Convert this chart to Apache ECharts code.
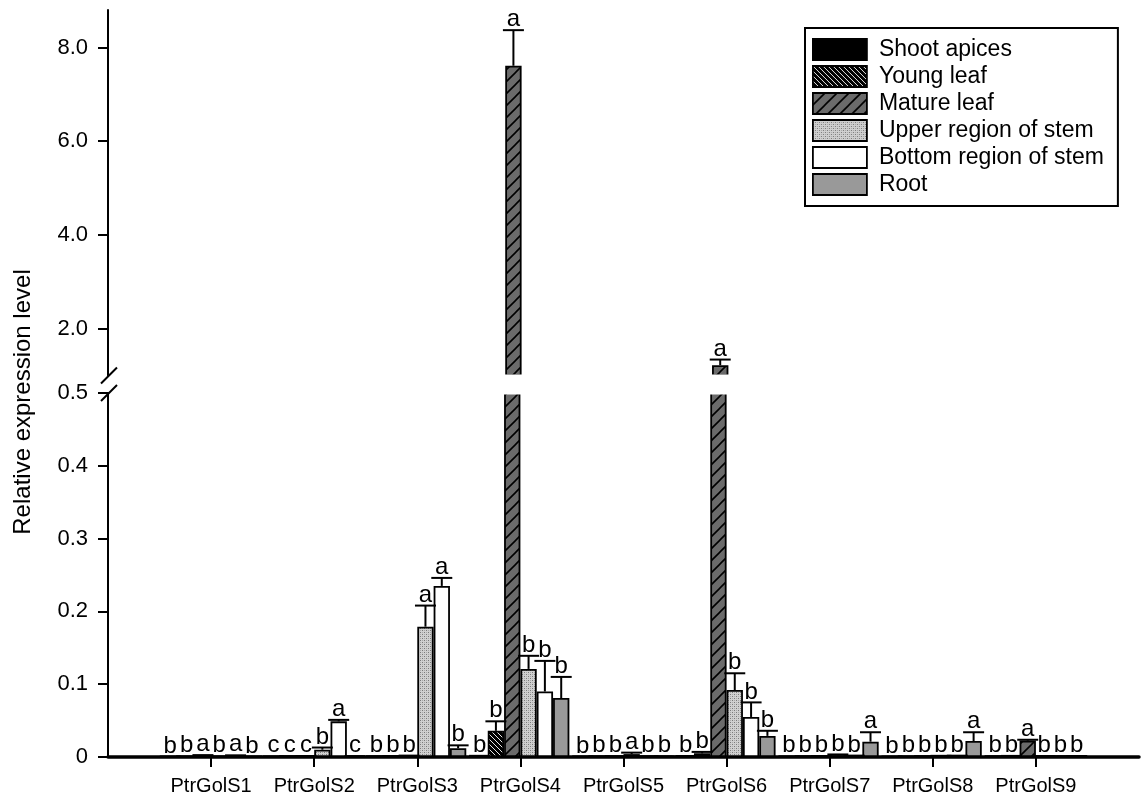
<!DOCTYPE html>
<html>
<head>
<meta charset="utf-8">
<title>PtrGolS relative expression</title>
<script src="https://cdn.jsdelivr.net/npm/echarts@6/dist/echarts.min.js"></script>
<style>
  html, body { margin: 0; padding: 0; background: #fff; }
  #chart { width: 1142px; height: 800px; }
</style>
</head>
<body>
<div id="chart"></div>
<script>
// ---- data ----
const categories = ['PtrGolS1', 'PtrGolS2', 'PtrGolS3', 'PtrGolS4', 'PtrGolS5',
                    'PtrGolS6', 'PtrGolS7', 'PtrGolS8', 'PtrGolS9'];
const tissues = ['Shoot apices', 'Young leaf', 'Mature leaf',
                 'Upper region of stem', 'Bottom region of stem', 'Root'];

// mean relative expression, one array per tissue (order follows categories)
const shootApices = [0.0004, 0.0006, 0.0008, 0.0012, 0.0005, 0.0010, 0.0006, 0.0004, 0.0008];
const youngLeaf   = [0.0006, 0.0009, 0.0010, 0.036,  0.0007, 0.0050, 0.0008, 0.0006, 0.0012];
const matureLeaf  = [0.0020, 0.0011, 0.0015, 7.61,   0.0009, 1.22,   0.0010, 0.0009, 0.0225];
const upperStem   = [0.0006, 0.010,  0.179,  0.121,  0.0040, 0.092,  0.0025, 0.0012, 0.0010];
const bottomStem  = [0.0018, 0.049,  0.235,  0.090,  0.0008, 0.055,  0.0015, 0.0014, 0.0009];
const root        = [0.0005, 0.0009, 0.012,  0.081,  0.0007, 0.029,  0.021,  0.022,  0.0011];

// standard errors (upper bars only)
const shootApicesErr = [0.0003, 0.0003, 0.0003, 0.0004, 0.0003, 0.0004, 0.0003, 0.0003, 0.0003];
const youngLeafErr   = [0.0003, 0.0003, 0.0003, 0.013,  0.0003, 0.002,  0.0003, 0.0003, 0.0003];
const matureLeafErr  = [0.0006, 0.0003, 0.0004, 0.76,   0.0003, 0.12,   0.0003, 0.0003, 0.0012];
const upperStemErr   = [0.0003, 0.003,  0.029,  0.018,  0.002,  0.023,  0.001,  0.0004, 0.0003];
const bottomStemErr  = [0.0005, 0.002,  0.011,  0.042,  0.0003, 0.020,  0.0004, 0.0004, 0.0003];
const rootErr        = [0.0003, 0.0003, 0.004,  0.029,  0.0003, 0.007,  0.013,  0.012,  0.0003];

// significance letters
const shootApicesSig = ['b', 'c', 'b', 'b', 'b', 'b', 'b', 'b', 'b'];
const youngLeafSig   = ['b', 'c', 'b', 'b', 'b', 'b', 'b', 'b', 'b'];
const matureLeafSig  = ['a', 'c', 'b', 'a', 'b', 'a', 'b', 'b', 'a'];
const upperStemSig   = ['b', 'b', 'a', 'b', 'a', 'b', 'b', 'b', 'b'];
const bottomStemSig  = ['a', 'a', 'a', 'b', 'b', 'b', 'b', 'b', 'b'];
const rootSig        = ['b', 'c', 'b', 'b', 'b', 'b', 'a', 'a', 'b'];

// broken value axis: lower segment 0-0.5, upper segment 1.0-8.8
const lowerTicks = [0, 0.1, 0.2, 0.3, 0.4, 0.5];
const upperTicks = [2, 4, 6, 8];
const LOWER_MAX = 0.5;
const UPPER_MIN = 1.0;
const UPPER_MAX = 8.8;

const means = [shootApices, youngLeaf, matureLeaf, upperStem, bottomStem, root];
const errs  = [shootApicesErr, youngLeafErr, matureLeafErr, upperStemErr, bottomStemErr, rootErr];
const sigs  = [shootApicesSig, youngLeafSig, matureLeafSig, upperStemSig, bottomStemSig, rootSig];

// ---- fill patterns ----
function tile(size, draw) {
  const c = document.createElement('canvas');
  c.width = size; c.height = size;
  draw(c.getContext('2d'), size);
  return { image: c, repeat: 'repeat' };
}
function backSlash(g, s) {           // lines running "\"
  g.beginPath();
  g.moveTo(-s, 0); g.lineTo(s, 2 * s);
  g.moveTo(0, 0);  g.lineTo(s, s);
  g.moveTo(0, -s); g.lineTo(2 * s, s);
  g.stroke();
}
function slash(g, s) {               // lines running "/"
  g.beginPath();
  g.moveTo(-s, s); g.lineTo(s, -s);
  g.moveTo(0, s);  g.lineTo(s, 0);
  g.moveTo(0, 2 * s); g.lineTo(2 * s, 0);
  g.stroke();
}
const fills = [
  '#000000',
  tile(5, (g, s) => { g.fillStyle = '#000'; g.fillRect(0, 0, s, s);
                      g.strokeStyle = '#ffffff'; g.lineWidth = 0.9; backSlash(g, s); }),
  tile(12, (g, s) => { g.fillStyle = '#6b6b6b'; g.fillRect(0, 0, s, s);
                       g.strokeStyle = '#000'; g.lineWidth = 1.6; slash(g, s); }),
  tile(4, (g, s) => { g.fillStyle = '#d0d0d0'; g.fillRect(0, 0, s, s);
                      g.fillStyle = '#7a7a7a'; g.fillRect(0, 0, 1, 1); g.fillRect(2, 2, 1, 1);
                      g.fillStyle = '#a8a8a8'; g.fillRect(2, 0, 1, 1); g.fillRect(0, 2, 1, 1); }),
  '#ffffff',
  '#999999'
];

// ---- layout constants ----
const FONT = '"Liberation Sans", Arial, Helvetica, sans-serif';
const AXIS_X = 108;
const PLOT_W = 1039;
const LOWER_TOP = 393, LOWER_BOTTOM = 757;
const UPPER_TOP = 10, UPPER_BOTTOM = 375.5;
const CAT_GAP = 0.05;
const slots = [''].concat(categories, ['']);

// one entry per bar, used by the error-bar/letter overlay
const marks = [];
means.forEach((arr, k) => arr.forEach((v, i) => {
  marks.push({ k: k, cat: i + 1, value: v, err: errs[k][i], sig: sigs[k][i] });
}));
const lowerMarks = marks.filter(m => m.value <= LOWER_MAX);
const upperMarks = marks.filter(m => m.value > LOWER_MAX);

function overlay(list) {
  return function (params, api) {
    const m = list[params.dataIndex];
    const band = api.coord([2, 0])[0] - api.coord([1, 0])[0];
    const bw = band * (1 - CAT_GAP) / tissues.length;
    const cx = api.coord([m.cat, 0])[0] + (m.k - (tissues.length - 1) / 2) * bw;
    const yBar = api.coord([m.cat, m.value])[1];
    const yTop = api.coord([m.cat, m.value + m.err])[1];
    const stroke = { stroke: '#000', lineWidth: 2 };
    return {
      type: 'group',
      children: [
        { type: 'line', shape: { x1: cx, y1: yBar, x2: cx, y2: yTop }, style: stroke },
        { type: 'line', shape: { x1: cx - 10.5, y1: yTop, x2: cx + 10.5, y2: yTop }, style: stroke },
        { type: 'text', z2: 10,
          style: { text: m.sig, x: cx, y: yTop - 10.5, align: 'center', verticalAlign: 'middle',
                   fill: '#000', font: '24px ' + FONT } }
      ]
    };
  };
}

const barSeries = [];
tissues.forEach((name, k) => {
  const common = {
    type: 'bar', name: name, barGap: '0%', barCategoryGap: (CAT_GAP * 100) + '%',
    itemStyle: { color: fills[k], borderColor: '#000', borderWidth: 1.8 },
    emphasis: { disabled: true }, animation: false
  };
  barSeries.push(Object.assign({}, common, {
    xAxisIndex: 0, yAxisIndex: 0,
    data: means[k].map((v, i) => [i + 1, v])
  }));
  barSeries.push(Object.assign({}, common, {
    xAxisIndex: 1, yAxisIndex: 1,
    data: means[k].map((v, i) => [i + 1, v]).filter(d => d[1] > LOWER_MAX)
  }));
});

const chart = echarts.init(document.getElementById('chart'), null, { renderer: 'canvas' });

chart.setOption({
  backgroundColor: '#ffffff',
  animation: false,
  textStyle: { fontFamily: FONT, color: '#000' },
  grid: [
    { left: AXIS_X, top: LOWER_TOP, width: PLOT_W, height: LOWER_BOTTOM - LOWER_TOP },
    { left: AXIS_X, top: UPPER_TOP, width: PLOT_W, height: UPPER_BOTTOM - UPPER_TOP }
  ],
  xAxis: [
    {
      type: 'category', gridIndex: 0, data: slots, boundaryGap: false,
      axisLine: { show: true, lineStyle: { color: '#000', width: 3.5 } },
      axisTick: { show: true, length: 10, interval: (i) => i > 0 && i < slots.length - 1,
                  lineStyle: { color: '#000', width: 2 } },
      axisLabel: { interval: 0, color: '#000', fontSize: 20, fontFamily: FONT, margin: 19 },
      splitLine: { show: false }
    },
    {
      type: 'category', gridIndex: 1, data: slots, boundaryGap: false, show: false
    }
  ],
  yAxis: [
    {
      type: 'value', gridIndex: 0, min: lowerTicks[0], max: LOWER_MAX, interval: 0.1,
      axisLine: { show: true, lineStyle: { color: '#000', width: 2 } },
      axisTick: { show: true, length: 10, lineStyle: { color: '#000', width: 2 } },
      axisLabel: { color: '#000', fontSize: 22, fontFamily: FONT, margin: 20,
                   customValues: lowerTicks,
                   formatter: v => (v === 0 ? '0' : v.toFixed(1)) },
      splitLine: { show: false }
    },
    {
      type: 'value', gridIndex: 1, min: UPPER_MIN, max: UPPER_MAX,
      axisLine: { show: true, lineStyle: { color: '#000', width: 2 } },
      axisTick: { show: true, length: 10, customValues: upperTicks,
                  lineStyle: { color: '#000', width: 2 } },
      axisLabel: { color: '#000', fontSize: 22, fontFamily: FONT, margin: 20,
                   customValues: upperTicks, formatter: v => v.toFixed(1) },
      splitLine: { show: false }
    }
  ],
  legend: {
    orient: 'vertical', left: 805, top: 28,
    padding: [10, 14, 10, 7],
    itemWidth: 54, itemHeight: 21, itemGap: 4,
    icon: 'rect', selectedMode: false,
    borderColor: '#000', borderWidth: 2, backgroundColor: '#fff',
    itemStyle: { borderColor: '#000', borderWidth: 1.8 },
    textStyle: { fontSize: 23, fontFamily: FONT, color: '#000', padding: [0, 0, 0, 7] },
    data: tissues
  },
  series: barSeries.concat([
    { type: 'custom', name: 'lower-errors', xAxisIndex: 0, yAxisIndex: 0, z: 5,
      renderItem: overlay(lowerMarks), data: lowerMarks.map(m => [m.cat, m.value]) },
    { type: 'custom', name: 'upper-errors', xAxisIndex: 1, yAxisIndex: 1, z: 5, clip: false,
      renderItem: overlay(upperMarks), data: upperMarks.map(m => [m.cat, m.value]) }
  ]),
  graphic: [
    // open gap where tall bars cross the axis break
    { type: 'rect', z: 15, silent: true,
      shape: { x: AXIS_X + 2, y: UPPER_BOTTOM - 1, width: PLOT_W, height: LOWER_TOP - UPPER_BOTTOM + 2.5 },
      style: { fill: '#ffffff' } },
    { type: 'line', z: 20, shape: { x1: AXIS_X - 7, y1: UPPER_BOTTOM + 8, x2: AXIS_X + 9, y2: UPPER_BOTTOM - 8 },
      style: { stroke: '#000', lineWidth: 2 } },
    { type: 'line', z: 20, shape: { x1: AXIS_X - 7, y1: LOWER_TOP + 8, x2: AXIS_X + 9, y2: LOWER_TOP - 8 },
      style: { stroke: '#000', lineWidth: 2 } },
    { type: 'text', z: 20, x: 23, y: 402, rotation: Math.PI / 2,
      style: { text: 'Relative expression level', font: '24px ' + FONT, fill: '#000',
               align: 'center', verticalAlign: 'middle' } }
  ]
});
</script>
</body>
</html>
